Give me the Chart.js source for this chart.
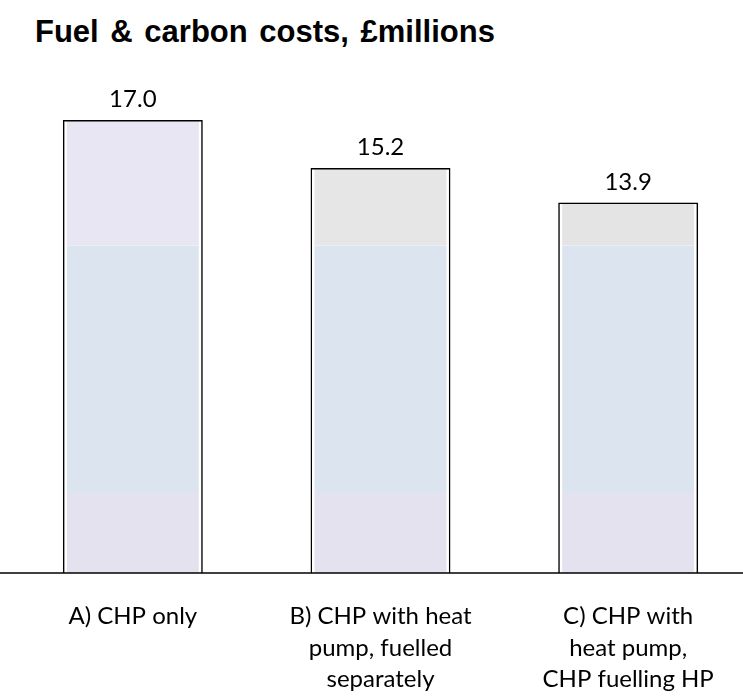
<!DOCTYPE html>
<html>
<head>
<meta charset="utf-8">
<script src="https://cdn.jsdelivr.net/npm/chart.js@4"></script>
<style>
  body { margin: 0; overflow: hidden; background: #fff; }
  #title {
    position: absolute; left: 35px; top: 16px;
    font: bold 31px "Liberation Sans", Arial, sans-serif;
    word-spacing: 3px;
    line-height: 1; color: #000; white-space: nowrap;
  }
  #canva { position: absolute; left: 0; top: 0; }
</style>
</head>
<body>
<div id="title">Fuel &amp; carbon costs, £millions</div>
<canvas id="canva" width="752" height="698"></canvas>
<script>
var labels = [
  ["A) CHP only"],
  ["B) CHP with heat", "pump, fuelled", "separately"],
  ["C) CHP with", "heat pump,", "CHP fuelling HP"]
];
var totals = [17.0, 15.2, 13.9];
// faint segments inside each bar
var bottomPart = [3.0, 3.0, 3.0];
var middlePart = [9.3, 9.3, 9.3];
var topPart = [4.7, 2.9, 1.6];
var topColors = ["#e8e6f3", "#e6e6e6", "#e4e4e4"];

var ctx = document.getElementById("canva").getContext('2d');

// value labels above the outline bars + baseline across full width
var extras = {
  id: 'extras',
  afterDatasetsDraw: function(chart) {
    var c = chart.ctx;
    var meta = chart.getDatasetMeta(0);
    c.save();
    c.fillStyle = '#000';
    c.font = '24px Lato';
    c.textAlign = 'center';
    c.textBaseline = 'alphabetic';
    meta.data.forEach(function(el, i) {
      c.fillText(totals[i].toFixed(1), el.x, el.y - 13);
    });
    var y0 = chart.scales.y.getPixelForValue(0);
    c.strokeStyle = '#000';
    c.lineWidth = 1.5;
    c.beginPath();
    c.moveTo(0, y0);
    c.lineTo(chart.width, y0);
    c.stroke();
    c.restore();
  }
};

var seg = { stack: 's', order: 1, borderColor: 'rgba(255,255,255,0.75)',
  borderWidth: { left: 4, right: 4, top: 0, bottom: 0 }, borderSkipped: false };

var config = {
  type: 'bar',
  data: {
    labels: labels,
    datasets: [
      { data: totals, stack: 'outline', grouped: false, order: 0,
        backgroundColor: 'rgba(0,0,0,0)', borderColor: '#000', borderWidth: 1.5 },
      Object.assign({ data: bottomPart, backgroundColor: '#e4e2ef' }, seg),
      Object.assign({ data: middlePart, backgroundColor: '#dce5ef' }, seg),
      Object.assign({ data: topPart, backgroundColor: topColors }, seg)
    ]
  },
  options: {
    responsive: false,
    animation: false,
    devicePixelRatio: 1,
    layout: { padding: { left: 9, right: 0, top: 40, bottom: 0 } },
    datasets: { bar: { barPercentage: 0.565, categoryPercentage: 1 } },
    plugins: {
      legend: { display: false },
      tooltip: { enabled: false }
    },
    scales: {
      x: {
        stacked: true,
        grid: { display: false },
        border: { display: false },
        ticks: {
          color: '#000',
          padding: 20,
          maxRotation: 0,
          autoSkip: false,
          font: { family: 'Lato', size: 24, lineHeight: 1.3 }
        },
        afterFit: function(axis) { axis.height = 125; }
      },
      y: {
        stacked: true,
        display: false,
        min: 0,
        max: 20
      }
    }
  },
  plugins: [extras]
};
new Chart(ctx, config);
</script>
</body>
</html>
